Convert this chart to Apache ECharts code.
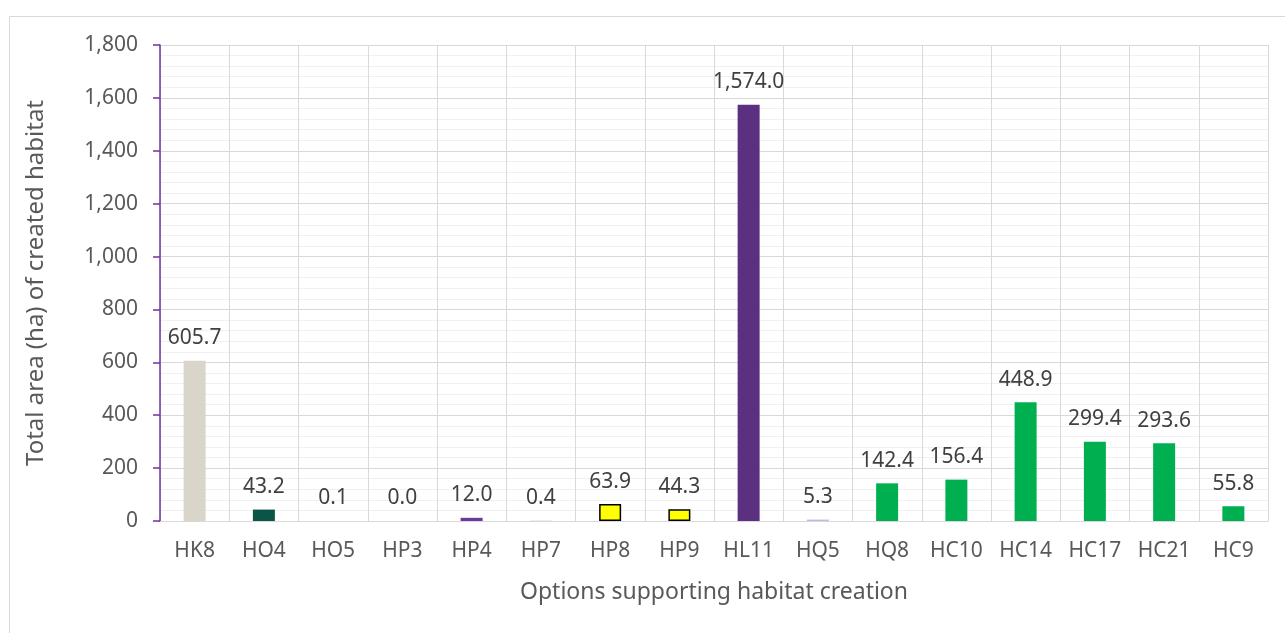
<!DOCTYPE html>
<html><head><meta charset="utf-8">
<script src="https://cdn.jsdelivr.net/npm/echarts@6/dist/echarts.min.js"></script>
<style>html,body{margin:0;padding:0;background:#fff}#c{width:1285px;height:633px}</style>
</head><body><div id="c"></div>
<script>
var categories = ['HK8','HO4','HO5','HP3','HP4','HP7','HP8','HP9','HL11','HQ5','HQ8','HC10','HC14','HC17','HC21','HC9'];
var values = [605.7, 43.2, 0.1, 0.0, 12.0, 0.4, 63.9, 44.3, 1574.0, 5.3, 142.4, 156.4, 448.9, 299.4, 293.6, 55.8];
var barColors = ['#d9d5c9','#0b5446','#0b5446','#7030a0','#6a3a9a','#7030a0','#ffff00','#ffff00','#5b3080','#c8b6e2','#00b050','#00b050','#00b050','#00b050','#00b050','#00b050'];
var yTicks = {min: 0, max: 1800, interval: 200};
var FONT = 'Noto Sans';
var chart = echarts.init(document.getElementById('c'));
var data = values.map(function(v, i){
  var it = {value: v, itemStyle: {color: barColors[i]}};
  if (barColors[i] === '#ffff00') { it.itemStyle.borderColor = '#000'; it.itemStyle.borderWidth = 1.5; }
  return it;
});
chart.setOption({
  animation: false,
  textStyle: {fontFamily: FONT},
  graphic: [{type: 'rect', shape: {x: 9.5, y: 16.5, width: 1300, height: 640}, style: {fill: 'none', stroke: '#d9d9d9', lineWidth: 1}, z: -1}],
  grid: {left: 160, right: 17, top: 45, bottom: 112},
  xAxis: {
    type: 'category', data: categories,
    name: 'Options supporting habitat creation', nameLocation: 'middle', nameGap: 60,
    nameTextStyle: {fontSize: 23, color: '#595959', fontFamily: FONT},
    axisLine: {lineStyle: {color: '#d9d9d9', width: 1}},
    axisTick: {show: false},
    axisLabel: {fontSize: 21, color: '#595959', margin: 20, fontFamily: FONT},
    splitLine: {show: true, lineStyle: {color: '#d9d9d9', width: 1}}
  },
  yAxis: {
    type: 'value', min: yTicks.min, max: yTicks.max, interval: yTicks.interval,
    name: 'Total area (ha) of created habitat', nameLocation: 'middle', nameGap: 112,
    nameTextStyle: {fontSize: 24, color: '#595959', fontFamily: FONT},
    axisLine: {show: true, lineStyle: {color: '#7030a0', width: 1.5}},
    axisTick: {show: true, length: 7, lineStyle: {color: '#7030a0', width: 1.5}},
    axisLabel: {fontSize: 21, color: '#595959', margin: 22, fontFamily: FONT,
      formatter: function(v){ return v.toLocaleString('en-US'); }},
    splitLine: {show: true, lineStyle: {color: '#d9d9d9', width: 1}},
    minorTick: {show: false, splitNumber: 5},
    minorSplitLine: {show: true, lineStyle: {color: '#f0f0f0', width: 1}}
  },
  series: [{
    type: 'bar', data: data, barWidth: 22,
    label: {show: true, position: 'top', distance: 12, fontSize: 21, color: '#404040', fontFamily: FONT,
      formatter: function(p){ return Number(p.value).toLocaleString('en-US', {minimumFractionDigits: 1, maximumFractionDigits: 1}); }}
  }]
});
</script></body></html>
